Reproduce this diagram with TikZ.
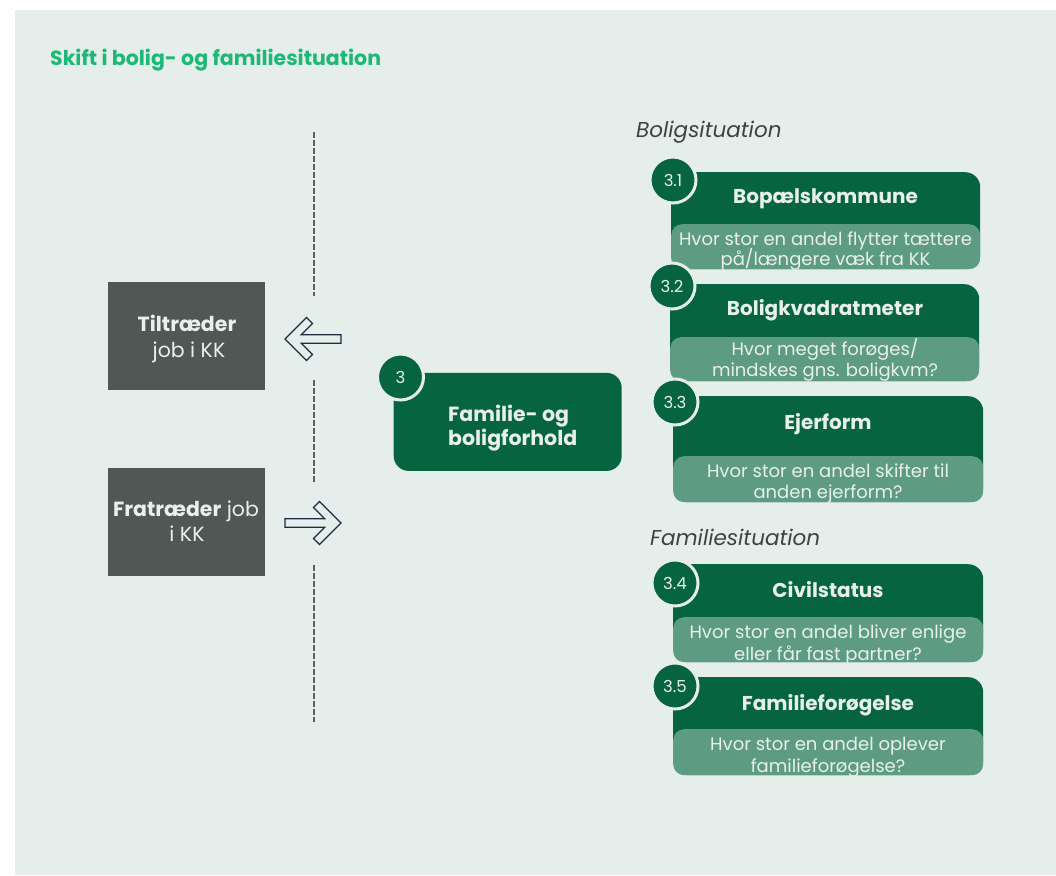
\documentclass[tikz,border=0pt]{standalone}
\usepackage{fontspec}
\setmainfont{Poppins}
\newcommand\myfs[2]{\fontsize{#1}{#2}\selectfont}
\definecolor{bgc}{HTML}{E6EEEB}
\definecolor{dkgreen}{HTML}{066540}
\definecolor{subgreen}{HTML}{5E9B83}
\definecolor{lt}{HTML}{E8F0EC}
\definecolor{titlegreen}{HTML}{1BB876}
\definecolor{grbox}{HTML}{4F5855}
\definecolor{dashc}{HTML}{5A605E}
\definecolor{arrowc}{HTML}{1E2B45}
\definecolor{labc}{HTML}{3C4442}
\begin{document}
\begin{tikzpicture}[x=1pt,y=-1pt,
  hdr/.style={rectangle, anchor=north west, fill=dkgreen, rounded corners=15pt, inner sep=0pt, minimum width=309pt},
  subbox/.style={rectangle, anchor=north west, fill=subgreen, rounded corners=11pt, inner sep=0pt, minimum width=309pt},
  badge/.style={circle, fill=dkgreen, draw=bgc, line width=3pt, minimum size=46pt, inner sep=0pt, text=lt, font=\myfs{16.5}{16.5}},
  hdrtext/.style={anchor=base, inner sep=0pt, text=lt, font=\bfseries\myfs{20}{22}},
  subtext/.style={anchor=base, inner sep=0pt, text=lt, font=\myfs{18}{21}},
  grayblock/.style={rectangle, anchor=north west, fill=grbox, inner sep=0pt, minimum width=157pt, minimum height=108pt},
  blocktext/.style={anchor=base, inner sep=0pt, text=lt, font=\myfs{20.5}{26}},
  seclabel/.style={anchor=base west, inner sep=0pt, text=labc, font=\itshape\myfs{21.5}{24}},
  divider/.style={draw=dashc, line width=2pt, dash pattern=on 6pt off 2pt},
  bigarrow/.style={draw=arrowc, fill=bgc, line width=1.2pt, line join=miter}
]
\useasboundingbox (0,0) rectangle (1056,875);
\fill[white] (0,0) rectangle (1056,875);
\fill[bgc] (15,10) rectangle (1056,875);

% title
\node[anchor=base west, inner sep=0pt, text=titlegreen, font=\bfseries\myfs{20.5}{24}] (title) at (50,66) {Skift i bolig- og familiesituation};

% divider
\coordinate (d1a) at (313.5,132); \coordinate (d1b) at (313.5,296);
\coordinate (d2a) at (313.5,380); \coordinate (d2b) at (313.5,482);
\coordinate (d3a) at (313.5,565); \coordinate (d3b) at (313.5,722);
\draw[divider] (d1a) -- (d1b);
\draw[divider] (d2a) -- (d2b);
\draw[divider] (d3a) -- (d3b);

% left blocks
\node[grayblock] (til) at (108,282) {};
\node[blocktext] (tila) at (187,331.5) {\textbf{Tiltræder}};
\node[blocktext] (tilb) at (189,357) {job i KK};
\node[grayblock] (fra) at (108,467.5) {};
\node[blocktext] (fraa) at (186,516) {\textbf{Fratræder} job};
\node[blocktext] (frab) at (187,541.5) {i KK};

% arrows
\coordinate (la) at (285,339);
\draw[bigarrow] (la) -- ++(21.5,-21.5) -- ++(6,6) -- ++(-11.2,11.2) -- ++(39.7,0) -- ++(0,8.6) -- ++(-39.7,0) -- ++(11.2,11.2) -- ++(-6,6) -- cycle;
\coordinate (ra) at (341,523);
\draw[bigarrow] (ra) -- ++(-21.5,-21.5) -- ++(-6,6) -- ++(11.2,11.2) -- ++(-39.7,0) -- ++(0,8.6) -- ++(39.7,0) -- ++(-11.2,11.2) -- ++(6,6) -- cycle;

% main box
\node[hdr, minimum width=228pt, minimum height=98pt] (main) at (393.5,372.7) {};
\node[badge] (b3) at (400.5,377) {3};
\node[anchor=base west, inner sep=0pt, text=lt, font=\bfseries\myfs{20.5}{24}] (m1) at (448,421.7) {Familie- og};
\node[anchor=base west, inner sep=0pt, text=lt, font=\bfseries\myfs{20.5}{24}] (m2) at (448,445.7) {boligforhold};

% section labels
\node[seclabel] (lab1) at (636,137) {Boligsituation};
\node[seclabel] (lab2) at (650,545) {Familiesituation};

% 3.1
\node[hdr, minimum height=97pt] (h31) at (671,172) {};
\node[subbox, minimum height=45pt] (s31) at (671,224) {};
\node[badge] (b31) at (673,180) {3.1};
\node[hdrtext] (t31) at (825.5,203) {Bopælskommune};
\begin{scope}
\clip[rounded corners=11pt] (671,224) rectangle (980,269);
\node[subtext] (u31a) at (825.5,245) {Hvor stor en andel flytter tættere};
\node[subtext] (u31b) at (825.5,265.5) {på/længere væk fra KK};
\end{scope}

% 3.2
\node[hdr, minimum height=97pt] (h32) at (670,284) {};
\node[subbox, minimum height=44pt] (s32) at (670,337) {};
\node[badge] (b32) at (672,286) {3.2};
\node[hdrtext] (t32) at (825,315) {Boligkvadratmeter};
\begin{scope}
\clip[rounded corners=11pt] (670,337) rectangle (979,381);
\node[subtext] (u32a) at (825,355) {Hvor meget forøges/};
\node[subtext] (u32b) at (825,376) {mindskes gns. boligkvm?};
\end{scope}

% 3.3
\node[hdr, minimum width=310pt, minimum height=106pt] (h33) at (673,396) {};
\node[subbox, minimum width=310pt, minimum height=46pt] (s33) at (673,456) {};
\node[badge] (b33) at (675,402) {3.3};
\node[hdrtext] (t33) at (828,429) {Ejerform};
\begin{scope}
\clip[rounded corners=11pt] (673,456) rectangle (983,502);
\node[subtext] (u33a) at (828,477) {Hvor stor en andel skifter til};
\node[subtext] (u33b) at (828,498.5) {anden ejerform?};
\end{scope}

% 3.4
\node[hdr, minimum width=310pt, minimum height=98pt] (h34) at (673,564) {};
\node[subbox, minimum width=310pt, minimum height=45pt] (s34) at (673,617) {};
\node[badge] (b34) at (675,583) {3.4};
\node[hdrtext] (t34) at (828,597) {Civilstatus};
\begin{scope}
\clip[rounded corners=11pt] (673,617) rectangle (983,662);
\node[subtext] (u34a) at (828,638) {Hvor stor en andel bliver enlige};
\node[subtext] (u34b) at (828,660) {eller får fast partner?};
\end{scope}

% 3.5
\node[hdr, minimum width=310pt, minimum height=98pt] (h35) at (673,677) {};
\node[subbox, minimum width=310pt, minimum height=46pt] (s35) at (673,729) {};
\node[badge] (b35) at (675,686) {3.5};
\node[hdrtext] (t35) at (828,710) {Familieforøgelse};
\begin{scope}
\clip[rounded corners=11pt] (673,729) rectangle (983,775);
\node[subtext] (u35a) at (828,750) {Hvor stor en andel oplever};
\node[subtext] (u35b) at (828,772) {familieforøgelse?};
\end{scope}
\end{tikzpicture}
\end{document}
